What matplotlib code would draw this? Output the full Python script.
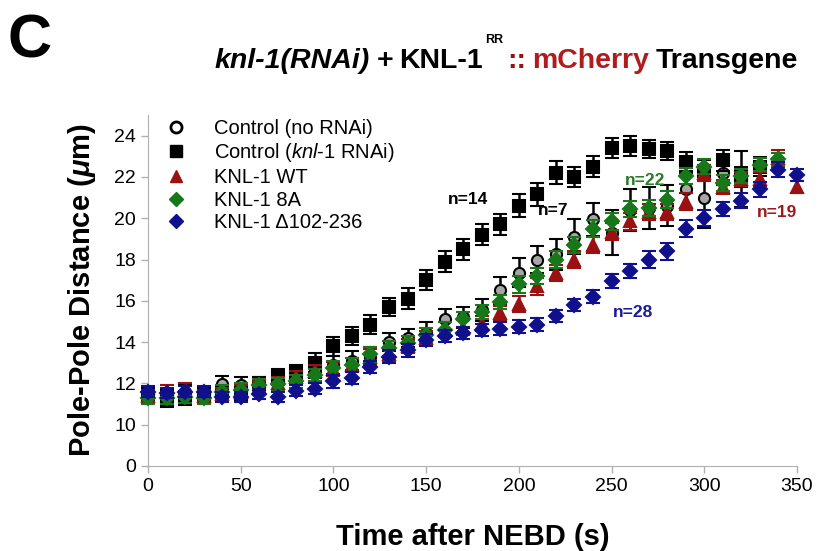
import numpy as np
import matplotlib
matplotlib.use("Agg")
import matplotlib.pyplot as plt
from matplotlib.lines import Line2D

plt.rcParams['font.family'] = ['Liberation Sans', 'DejaVu Sans']
plt.rcParams['mathtext.fontset'] = 'custom'
plt.rcParams['mathtext.rm'] = 'Liberation Sans'
plt.rcParams['mathtext.it'] = 'Liberation Sans:italic'
plt.rcParams['mathtext.sf'] = 'Liberation Sans:italic:bold'

# time after NEBD (s), one point every 10 s
t_gray = np.arange(0, 330, 10)
t_black = np.arange(0, 340, 10)
t_red = np.arange(0, 360, 10)
t_green = np.arange(0, 350, 10)
t_blue = np.arange(0, 360, 10)

# Control (no RNAi)
gray = [11.5, 11.4, 11.6, 11.5, 11.95, 11.9, 11.9, 12.1, 12.4, 12.7,
        12.9, 13.1, 13.3, 14.0, 14.2, 14.45, 15.1, 15.2, 15.55, 16.5,
        17.35, 18.0, 18.25, 19.1, 19.95, 19.3, 20.4, 20.5, 20.6, 21.4,
        21.0, 22.2, 21.9]
gray_err = [0.3, 0.3, 0.3, 0.3, 0.4, 0.4, 0.4, 0.4, 0.4, 0.45,
            0.45, 0.45, 0.45, 0.45, 0.45, 0.5, 0.5, 0.5, 0.55, 0.65,
            0.7, 0.65, 0.75, 0.85, 0.8, 1.1, 1.0, 1.0, 1.0, 0.9,
            1.45, 0.6, 1.35]

# Control (knl-1 RNAi)
black = [11.4, 11.2, 11.3, 11.4, 11.5, 11.5, 11.9, 12.3, 12.5, 13.0,
         13.8, 14.3, 14.85, 15.7, 16.1, 17.0, 17.9, 18.5, 19.2, 19.7,
         20.6, 21.15, 22.2, 22.0, 22.5, 23.4, 23.5, 23.35, 23.25, 22.7,
         22.3, 22.8, 22.0, 22.5]
black_err = [0.35, 0.35, 0.35, 0.35, 0.35, 0.35, 0.4, 0.4, 0.4, 0.45,
             0.45, 0.45, 0.45, 0.45, 0.5, 0.5, 0.5, 0.5, 0.5, 0.5,
             0.55, 0.55, 0.55, 0.5, 0.5, 0.5, 0.5, 0.45, 0.45, 0.5,
             0.5, 0.5, 0.5, 0.45]

# KNL-1 WT
red = [11.4, 11.6, 11.7, 11.4, 11.5, 11.6, 11.8, 12.0, 12.3, 12.6,
       12.7, 12.9, 13.3, 13.4, 13.8, 14.2, 14.6, 14.7, 14.9, 15.4,
       15.85, 16.7, 17.35, 18.0, 18.7, 19.35, 19.85, 20.3, 20.3, 20.8,
       22.2, 21.5, 21.9, 21.9, 22.9, 21.5]
red_err = [0.3] * 10 + [0.35] * 10 + [0.4] * 10 + [0.4, 0.35, 0.35, 0.35, 0.4, 0.3]

# KNL-1 8A
green = [11.3, 11.3, 11.35, 11.3, 11.6, 11.7, 11.9, 11.95, 12.1, 12.4,
         12.75, 12.9, 13.4, 13.7, 13.95, 14.35, 14.6, 15.1, 15.45, 15.95,
         16.8, 17.2, 18.0, 18.7, 19.5, 19.85, 20.45, 20.5, 20.9, 22.05,
         22.5, 21.7, 22.05, 22.6, 22.85]
green_err = [0.3] * 10 + [0.35] * 10 + [0.4] * 10 + [0.35, 0.4, 0.35, 0.3, 0.3]

# KNL-1 delta102-236
blue = [11.6, 11.55, 11.6, 11.6, 11.35, 11.35, 11.5, 11.35, 11.65, 11.75,
        12.1, 12.25, 12.8, 13.3, 13.6, 14.1, 14.3, 14.45, 14.6, 14.65,
        14.75, 14.85, 15.25, 15.8, 16.2, 16.95, 17.45, 18.0, 18.4, 19.5,
        20.0, 20.45, 20.85, 21.4, 22.35, 22.1]
blue_err = [0.25] * 10 + [0.3] * 10 + [0.3, 0.3, 0.3, 0.3, 0.3, 0.35, 0.35, 0.4, 0.4, 0.4,
                                       0.4, 0.35, 0.35, 0.35, 0.35, 0.3]

c_red = '#9b1111'
c_green = '#17781a'
c_blue = '#10108c'

fig = plt.figure(figsize=(8.19, 5.51), dpi=100)
ax = fig.add_axes([0.1807, 0.1543, 0.7924, 0.637])


def series(t, v, e, marker, face, edge, ecol, ms, z):
    cont = ax.errorbar(t, v, yerr=e, fmt=marker, ms=ms, mfc=face, mec=edge, mew=1.5,
                       ecolor=ecol, elinewidth=1.8, capsize=5, capthick=1.8, zorder=z)
    cont[0].set_clip_on(False)
    for part in cont[1] + cont[2]:
        part.set_clip_on(False)


series(t_gray, gray, gray_err, 'o', '#a6a6a6', 'black', 'black', 8, 3)
series(t_black, black, black_err, 's', 'black', 'black', 'black', 8.5, 4)
series(t_red, red, red_err, '^', c_red, c_red, c_red, 9, 5)
series(t_green, green, green_err, 'D', c_green, c_green, c_green, 7.5, 6)
series(t_blue, blue, blue_err, 'D', c_blue, c_blue, c_blue, 7.5, 7)

ax.set_xlim(0, 350)
ax.set_ylim(8, 25)
ax.set_xticks(range(0, 351, 50))
ax.set_yticks(range(8, 25, 2))
ax.set_yticklabels(['0'] + [str(v) for v in range(10, 25, 2)])
ax.tick_params(labelsize=14, direction='out', length=5, color='#b0b0b0', width=1)
for s in ['top', 'right']:
    ax.spines[s].set_visible(False)
for s in ['left', 'bottom']:
    ax.spines[s].set_color('#b0b0b0')

ax.set_xlabel('Time after NEBD (s)', fontsize=21, fontweight='bold', labelpad=20)
ax.set_ylabel(r'Pole-Pole Distance ($\mathsf{\mu}$m)', fontsize=21, fontweight='bold', labelpad=12)

handles = [
    Line2D([], [], ls='none', marker='o', ms=8, mfc='white', mec='black', mew=2),
    Line2D([], [], ls='none', marker='s', ms=9, mfc='black', mec='black'),
    Line2D([], [], ls='none', marker='^', ms=9, mfc=c_red, mec=c_red),
    Line2D([], [], ls='none', marker='D', ms=7.5, mfc=c_green, mec=c_green),
    Line2D([], [], ls='none', marker='D', ms=7.5, mfc=c_blue, mec=c_blue),
]
labels = ['Control (no RNAi)', r'Control ($\it{knl}$-$\it{1}$ RNAi)', 'KNL-1 WT', 'KNL-1 8A',
          'KNL-1 \u0394102-236']
ax.legend(handles, labels, loc='upper left', bbox_to_anchor=(0.0, 1.035), frameon=False,
          fontsize=14.5, handlelength=1.2, handletextpad=1.3, labelspacing=0.18,
          borderaxespad=0.4)

ax.text(172.6, 20.9, 'n=14', color='black', fontsize=12.5, fontweight='bold', ha='center', va='center')
ax.text(218.4, 20.38, 'n=7', color='black', fontsize=12.5, fontweight='bold', ha='center', va='center')
ax.text(268, 21.83, 'n=22', color='#2a7a2a', fontsize=12.5, fontweight='bold', ha='center', va='center')
ax.text(339, 20.28, 'n=19', color='#9b1b1b', fontsize=12.5, fontweight='bold', ha='center', va='center')
ax.text(261.6, 15.43, 'n=28', color='#1a1a9a', fontsize=12.5, fontweight='bold', ha='center', va='center')

# panel letter and multi-coloured title
W, H = 819.0, 551.0
fig.text(8 / W, 1 - 14 / H, 'C', fontsize=44, fontweight='bold', ha='left', va='top')

renderer = fig.canvas.get_renderer()
base = 1 - 68 / H
x = 215 / W
pieces = [('knl-1(RNAi)', 'black', 'italic', 20.5, 0, 6),
          ('+', 'black', 'normal', 20.5, 0, 6),
          ('KNL-1', 'black', 'normal', 20.5, 0, 3),
          ('RR', 'black', 'normal', 9, 25, 4),
          ('::', c_red, 'normal', 20.5, 0, 6),
          ('mCherry', '#b01c1c', 'normal', 20.5, 0, 6),
          ('Transgene', 'black', 'normal', 20.5, 0, 0)]
for text, col, style, size, rise, gap in pieces:
    tt = fig.text(x, base + rise / H, text, color=col, fontstyle=style, fontsize=size,
                  fontweight='bold', ha='left', va='baseline')
    bb = tt.get_window_extent(renderer)
    x += (bb.width + gap) / W

fig.savefig('out.png', dpi=100)
